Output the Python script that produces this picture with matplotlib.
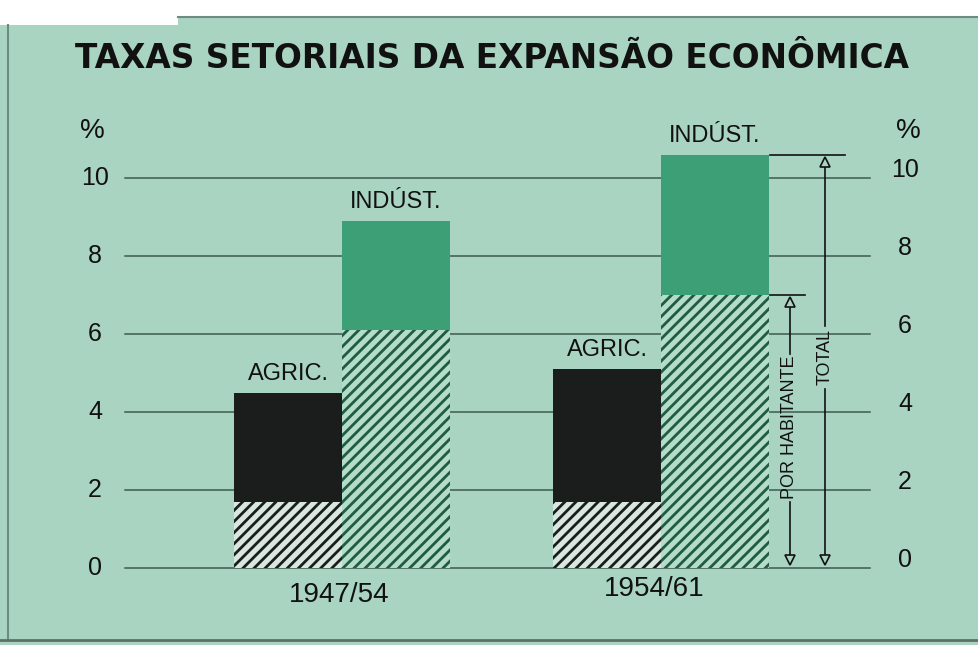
import matplotlib
matplotlib.use("Agg")
import matplotlib.pyplot as plt
from matplotlib.patches import Rectangle
import numpy as np

# ---- data ----
periods = ["1947/54", "1954/61"]
agric_total = [4.5, 5.1]
agric_per_capita = [1.7, 1.7]
indust_total = [8.9, 10.6]
indust_per_capita = [6.1, 7.0]
yticks = [0, 2, 4, 6, 8, 10]
title = "TAXAS SETORIAIS DA EXPANSÃO ECONÔMICA"

# ---- style ----
BG = "#a9d4c2"
GREEN = "#3c9f75"
BLACK = "#1b1d1c"
HGREEN = "#1f5c43"
plt.rcParams["hatch.linewidth"] = 2.0

W, H = 979, 645
fig = plt.figure(figsize=(W / 100, H / 100), dpi=100, facecolor=BG)

# white torn edges of the scan
fig.patches.append(Rectangle((0, 1 - 17 / H), 1, 17 / H, transform=fig.transFigure,
                             facecolor="white", edgecolor="none", zorder=0))
fig.patches.append(Rectangle((0, 1 - 25 / H), 178 / W, 25 / H, transform=fig.transFigure,
                             facecolor="white", edgecolor="none", zorder=0))
fig.lines.append(plt.Line2D([178 / W, 1], [1 - 17 / H, 1 - 17 / H], transform=fig.transFigure,
                            color="#6f8a80", lw=1.5))
fig.lines.append(plt.Line2D([8 / W, 8 / W], [5 / H, 1 - 25 / H], transform=fig.transFigure,
                            color="#6f8a80", lw=1.5))
fig.lines.append(plt.Line2D([0, 1], [5 / H, 5 / H], transform=fig.transFigure,
                            color="#5d6f68", lw=2))

# axes geometry (pixels)
px0, px1 = 125, 870
y0px, ppu = 568, 39.0
ytop = 11.2
ax = fig.add_axes([px0 / W, (H - y0px) / H, (px1 - px0) / W, ytop * ppu / H])
ax.set_facecolor("none")
g1, g2, ppx = 342, 661, 319.0
ax.set_xlim((px0 - g1) / ppx, (px1 - g1) / ppx)
ax.set_ylim(0, ytop)
for s in ax.spines.values():
    s.set_visible(False)
ax.set_xticks([])
ax.set_yticks([])

# gridlines
for t in yticks:
    ax.axhline(t, color="#3d5a4e", lw=1.1, zorder=1, clip_on=False)

x = np.arange(len(periods))
bw = 108 / ppx
xa = x - bw / 2
xi = x + bw / 2

# agriculture bars
ax.bar(xa, np.array(agric_total) - np.array(agric_per_capita), bw, bottom=agric_per_capita,
       color=BLACK, lw=0, zorder=2)
ax.bar(xa, agric_per_capita, bw, facecolor="#d8e8e0", edgecolor=BLACK, hatch="///", lw=0, zorder=2)
# industry bars
ax.bar(xi, np.array(indust_total) - np.array(indust_per_capita), bw, bottom=indust_per_capita,
       color=GREEN, lw=0, zorder=2)
ax.bar(xi, indust_per_capita, bw, facecolor="#b4dcc9", edgecolor=HGREEN, hatch="///", lw=0, zorder=2)

lab_font = ["Liberation Sans", "DejaVu Sans"]
num_font = ["Liberation Sans", "DejaVu Sans"]
for i in range(len(periods)):
    ax.text(xa[i], agric_total[i] + 0.2, "AGRIC.", ha="center", va="bottom",
            fontsize=17, family=lab_font, color="#111")
    ax.text(xi[i], indust_total[i] + 0.2, "INDÚST.", ha="center", va="bottom",
            fontsize=17, family=lab_font, color="#111")
ax.text(x[0] - 0.01, -0.35, periods[0], ha="center", va="top", fontsize=20,
        family=num_font, color="#111")
ax.text(x[1] - 0.02, -0.2, periods[1], ha="center", va="top", fontsize=20,
        family=num_font, color="#111")

# tick labels left and right
for t in yticks:
    ax.text((95 - g1) / ppx, t, str(t), ha="center", va="center", fontsize=18,
            family=num_font, color="#111")
    ax.text((905 - g1) / ppx, t + 0.2, str(t), ha="center", va="center", fontsize=18,
            family=num_font, color="#111")
ax.text((92 - g1) / ppx, 11.2, "%", ha="center", va="center", fontsize=20,
        family=num_font, color="#111", clip_on=False)
ax.text((908 - g1) / ppx, 11.2, "%", ha="center", va="center", fontsize=20,
        family=num_font, color="#111", clip_on=False)

# dimension arrows
def dim(xpx, top, tick0, tick1, label, ylab, span):
    xd = (xpx - g1) / ppx
    ax.plot([(tick0 - g1) / ppx, (tick1 - g1) / ppx], [top, top], color="#111", lw=1.2,
            zorder=3, clip_on=False)
    lo, hi = ylab - span / 2, ylab + span / 2
    ax.plot([xd, xd], [0.2, lo], color="#111", lw=1.2, zorder=3)
    ax.plot([xd, xd], [hi, top - 0.2], color="#111", lw=1.2, zorder=3)
    ax.plot([xd], [top - 0.18], marker="^", ms=7, mfc=BG, mec="#111", mew=1.2, zorder=4,
            clip_on=False)
    ax.plot([xd], [0.2], marker="v", ms=7, mfc=BG, mec="#111", mew=1.2, zorder=4)
    ax.text(xd, ylab, label, rotation=90, ha="center", va="center", fontsize=13,
            family=lab_font, color="#111")

dim(825, indust_total[1], 770, 845, "TOTAL", 5.4, 1.6)
dim(790, indust_per_capita[1], 770, 805, "POR HABITANTE", 3.6, 3.8)

# title scaled to width
tt = fig.text(492 / W, 1 - 58 / H, title, ha="center", va="center", fontsize=30,
              fontweight="bold", family=["DejaVu Sans"], color="#111")
fig.canvas.draw()
bb = tt.get_window_extent()
tt.set_fontsize(30 * 835 / bb.width)

fig.savefig("out.png", dpi=100, facecolor=BG)
